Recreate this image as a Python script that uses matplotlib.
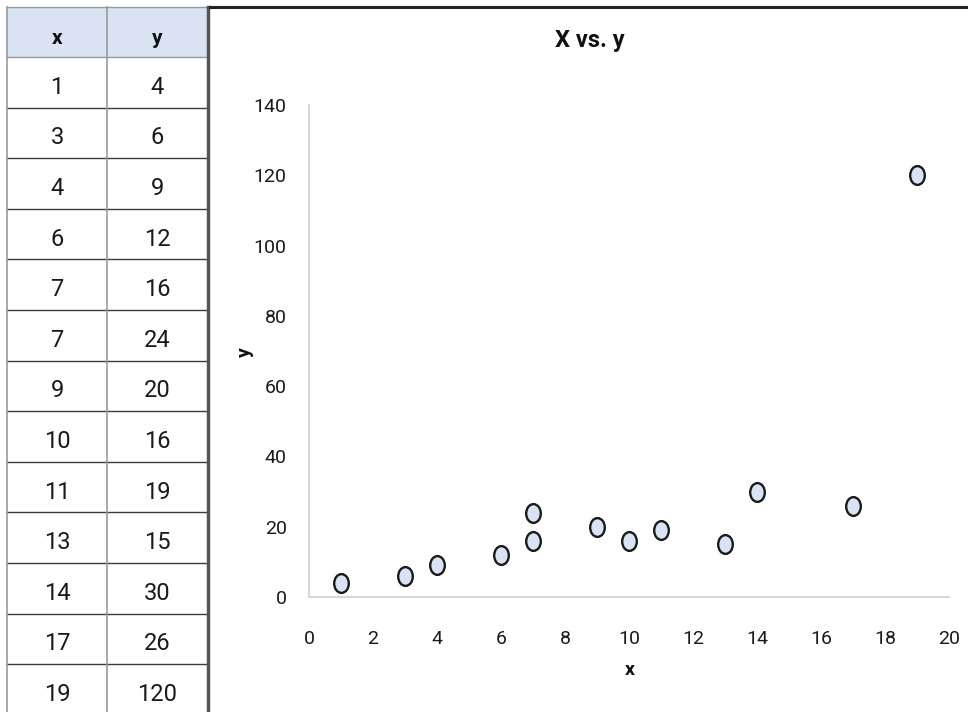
import matplotlib
matplotlib.use("Agg")
import matplotlib.pyplot as plt
from matplotlib.path import Path
from matplotlib.transforms import Affine2D
import matplotlib.font_manager as fm

x_vals = [1, 3, 4, 6, 7, 7, 9, 10, 11, 13, 14, 17, 19]
y_vals = [4, 6, 9, 12, 16, 24, 20, 16, 19, 15, 30, 26, 120]
col_headers = ["x", "y"]
x_ticks = [0, 2, 4, 6, 8, 10, 12, 14, 16, 18, 20]
y_ticks = [0, 20, 40, 60, 80, 100, 120, 140]
title = "X vs. y"

names = {f.name for f in fm.fontManager.ttflist}
fam = [f for f in ["Roboto", "Open Sans", "DejaVu Sans"] if f in names]
plt.rcParams['font.family'] = fam

W, H = 968, 712
fig = plt.figure(figsize=(W / 100, H / 100), dpi=100)

# background axes in pixel coordinates for the table and frame
bg = fig.add_axes([0, 0, 1, 1])
bg.set_xlim(0, W)
bg.set_ylim(H, 0)
bg.axis("off")

tx0, tmid, tx1 = 7, 107, 208
top, hdr_h, row_h = 7, 50, 50.6
bg.add_patch(plt.Rectangle((tx0, top), tx1 - tx0, hdr_h, facecolor="#dae3f3",
                           edgecolor="none", zorder=1))
edges = [top, top + hdr_h] + [top + hdr_h + row_h * (i + 1) for i in range(len(x_vals))]
for yy in edges:
    bg.plot([tx0, tx1], [yy, yy], color="#3a3a3a" if yy > top + hdr_h + 1 else "#999999",
            lw=1.0, zorder=2)
for xx, c, lw in [(tx0, "#999999", 1.2), (tmid, "#999999", 1.2), (tx1, "#555555", 2.5)]:
    bg.plot([xx, xx], [top, H], color=c, lw=lw, zorder=2)

cx = [(tx0 + tmid) / 2, (tmid + tx1) / 2]
for j, h in enumerate(col_headers):
    bg.text(cx[j], top + hdr_h / 2 + 6, h, ha="center", va="center",
            fontsize=15, fontweight="bold", color="#111111")
for i, (a, b) in enumerate(zip(x_vals, y_vals)):
    yc = top + hdr_h + row_h * i + row_h / 2 + 5
    bg.text(cx[0], yc, str(a), ha="center", va="center", fontsize=17, color="#1a1a1a")
    bg.text(cx[1], yc, str(b), ha="center", va="center", fontsize=17, color="#1a1a1a")

# chart frame
bg.plot([210, W], [7, 7], color="#222222", lw=2.2, zorder=3)

# scatter axes
ax = fig.add_axes([309 / W, 1 - 597 / H, (949 - 309) / W, (597 - 105) / H])
ax.set_xlim(0, 20)
ax.set_ylim(0, 140)
ax.set_xticks(x_ticks)
ax.set_yticks(y_ticks)
for s in ["top", "right"]:
    ax.spines[s].set_visible(False)
for s in ["left", "bottom"]:
    ax.spines[s].set_color("#d0d0d0")
    ax.spines[s].set_linewidth(1.2)
ax.tick_params(length=0, labelsize=14, labelcolor="#1a1a1a")
ax.tick_params(axis="x", pad=24)
ax.tick_params(axis="y", pad=16)
ax.patch.set_alpha(0)

circ = Path.unit_circle()
ell = Path(Affine2D().scale(0.78, 1.0).transform(circ.vertices), circ.codes)
ax.scatter(x_vals, y_vals, marker=ell, s=13.5 ** 2, facecolor="#dae3f3",
           edgecolor="#1a1a1a", linewidth=1.7, zorder=3, clip_on=False)

fig.text(590 / W, 1 - 40 / H, title, ha="center", va="center",
         fontsize=17, fontweight="bold", color="#111111")
fig.text(630 / W, 1 - 670 / H, "x", ha="center", va="center",
         fontsize=14, fontweight="bold", color="#111111")
fig.text(245 / W, 1 - 352 / H, "y", ha="center", va="center", rotation=90,
         fontsize=14, fontweight="bold", color="#111111")

fig.savefig("out.png", dpi=100)
